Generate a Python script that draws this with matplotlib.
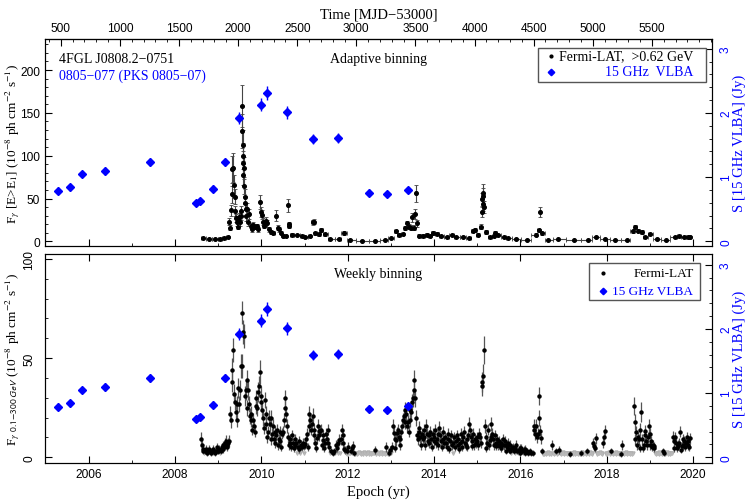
import numpy as np
import matplotlib
matplotlib.use('Agg')
import matplotlib.pyplot as plt
from matplotlib.ticker import MultipleLocator, FixedLocator
from matplotlib.patches import Rectangle
from matplotlib.lines import Line2D

# ---------------- data ----------------
# 15 GHz VLBA (Jy)
vlba_year = [2005.30, 2005.56, 2005.85, 2006.39, 2007.42, 2008.48, 2008.58, 2008.89, 2009.16,
             2009.49, 2009.99, 2010.13, 2010.60, 2011.19, 2011.77, 2012.50, 2012.92, 2013.40]
vlba_jy = [0.79, 0.84, 1.05, 1.10, 1.23, 0.60, 0.63, 0.82, 1.23,
           1.92, 2.13, 2.31, 2.01, 1.59, 1.61, 0.76, 0.73, 0.80]
vlba_err = [0.05, 0.05, 0.05, 0.06, 0.06, 0.04, 0.04, 0.05, 0.06,
            0.09, 0.10, 0.11, 0.10, 0.08, 0.08, 0.05, 0.04, 0.05]

# adaptive binning, E > 0.62 GeV: (epoch, flux, error)
adaptive = [
    (2008.64, 3.5, 0.8), (2008.78, 3.1, 0.8), (2008.93, 2.7, 0.8), (2009.05, 3.1, 0.8),
    (2009.14, 3.9, 0.9), (2009.22, 5.4, 1.0), (2009.26, 23, 4), (2009.28, 16, 3),
    (2009.30, 36, 6), (2009.31, 55, 10), (2009.33, 84, 16), (2009.35, 86, 17),
    (2009.37, 66, 12), (2009.385, 52, 9), (2009.40, 35, 6), (2009.42, 27, 5),
    (2009.435, 22, 4), (2009.45, 17, 3), (2009.47, 25, 4), (2009.49, 28, 5),
    (2009.505, 22, 4), (2009.52, 35, 6), (2009.53, 30, 5), (2009.545, 129, 20),
    (2009.555, 158, 24), (2009.565, 112, 18), (2009.572, 100, 15), (2009.58, 92, 14),
    (2009.587, 78, 12), (2009.595, 86, 13), (2009.605, 65, 10), (2009.615, 52, 9),
    (2009.625, 45, 8), (2009.64, 38, 7), (2009.655, 30, 6), (2009.67, 38, 7),
    (2009.69, 22, 4), (2009.72, 32, 6), (2009.75, 18, 3), (2009.78, 14, 3),
    (2009.81, 19, 3), (2009.85, 17, 3), (2009.89, 17.5, 3), (2009.93, 14, 3),
    (2009.975, 46, 8), (2009.99, 34, 6), (2010.01, 31, 5), (2010.04, 23, 4),
    (2010.07, 18, 3), (2010.10, 24, 4), (2010.13, 21, 4), (2010.17, 14, 3),
    (2010.22, 11, 2), (2010.28, 10, 2), (2010.35, 30, 6), (2010.39, 16, 3),
    (2010.42, 14, 3), (2010.46, 10, 2), (2010.51, 6.6, 1.5), (2010.56, 6, 1.5),
    (2010.61, 42, 8), (2010.63, 18, 3), (2010.65, 20, 3), (2010.70, 7.7, 1.5),
    (2010.83, 7.3, 1.5), (2010.94, 5.8, 1.2), (2011.02, 4.7, 1.0), (2011.12, 5.8, 1.2),
    (2011.20, 22, 3), (2011.22, 23, 3), (2011.25, 9.3, 2), (2011.33, 8, 1.5),
    (2011.39, 13, 2), (2011.47, 8, 1.5), (2011.60, 2.7, 0.8), (2011.79, 2.7, 0.8),
    (2011.91, 9.7, 2), (2012.05, 1.9, 0.6), (2012.33, 0.8, 0.5), (2012.64, 0.8, 0.5),
    (2012.87, 1.9, 0.6), (2013.01, 3.5, 0.8), (2013.12, 11.7, 2), (2013.18, 7.7, 1.5),
    (2013.27, 8.8, 1.5), (2013.33, 15.5, 2.5), (2013.37, 21, 3), (2013.42, 17, 3),
    (2013.47, 16, 3), (2013.50, 28, 5), (2013.53, 16, 3), (2013.55, 32, 6),
    (2013.59, 56, 10), (2013.60, 21, 4), (2013.64, 6.6, 1.5), (2013.74, 6.6, 1.5),
    (2013.83, 7.7, 1.5), (2013.90, 5.8, 1.2), (2013.98, 9.7, 2), (2014.06, 9, 2),
    (2014.17, 5.8, 1.2), (2014.29, 4.7, 1.0), (2014.42, 7.3, 1.5), (2014.51, 4.7, 1.0),
    (2014.67, 5.4, 1.0), (2014.82, 3.5, 0.8), (2014.90, 12.4, 2), (2014.95, 13, 2),
    (2015.01, 7.7, 1.5), (2015.08, 17, 3), (2015.10, 34, 6), (2015.115, 49, 8),
    (2015.125, 53, 9), (2015.135, 57, 10), (2015.145, 43.5, 8), (2015.155, 40, 7),
    (2015.21, 11, 2), (2015.30, 4.7, 1.0), (2015.39, 5.8, 1.2), (2015.42, 9.7, 2),
    (2015.49, 7.3, 1.5), (2015.61, 4.7, 1.0), (2015.72, 3.5, 0.8), (2015.90, 2.7, 0.8),
    (2016.15, 1.9, 0.6), (2016.36, 7.7, 1.5), (2016.43, 12.8, 2), (2016.46, 34, 6),
    (2016.51, 9.4, 2), (2016.65, 1.5, 0.5), (2016.88, 2.3, 0.6), (2017.23, 1.2, 0.5),
    (2017.56, 1.5, 0.5), (2017.75, 4.7, 1.0), (2017.95, 2.7, 0.8), (2018.19, 1.9, 0.6),
    (2018.47, 1.2, 0.5), (2018.60, 11.7, 2), (2018.66, 16.7, 2.5), (2018.73, 12.4, 2),
    (2018.81, 11, 2), (2018.89, 4.7, 1.0), (2019.00, 8.5, 1.5), (2019.16, 2.7, 0.8),
    (2019.37, 1.2, 0.5), (2019.57, 4.7, 1.0), (2019.68, 5.8, 1.2), (2019.78, 5, 1.0),
    (2019.87, 5, 1.0), (2019.93, 5, 1.0),
]
lat_start = 2008.593   # start of the LAT light curve (first bin edge)
lat_end = 2019.95      # end of the LAT light curve

# weekly binning, 0.1-300 GeV; negative value = upper limit at |value|
weekly_flux = [
    9, 6, 4, 3, -2, 3, 4, 2, 3, -2, 4, 3, 2,
    3, -2, 4, 3, 2, 3, 5, 3, 3, 4, -2, 3, 5,
    4, 6, 5, 7, 8, 6, 5, 7, 8, 22, 19, 38, 44,
    54, 32, 28, 23, 19, 27, 35, 27, 34, 46, 73, 46, 63,
    61, 31, 34, 25, 39, 34, 27, 21, 19, 22, 14, 19, 16,
    13, 26, 30, 25, 33, 36, 43, 31, 28, 24, 20, 15, 29,
    22, 17, 10, 13, 20, 17, 9, 20, 12, 16, 9, 13, 7,
    11, 14, 6, 9, 13, 8, 5, 12, 13, 19, 25, 30, 22,
    16, 10, 6, 7, 9, 5, 11, 7, 4.5, 6, 9, 7, -2,
    5, 8, 4, -2, 6, 5, 7, -2, 5.5, 6.5, 9, 12, 5,
    16, 22, 19, 14, 17, 21, 14, 11, 7, 4.5, 9.5, 16, 13.5,
    11, 13.5, 14, 6, 8.5, 11, 4.5, 7, 12, 9, 14, 7, 5,
    -2, 3, -2, 2, -2, 3, -2, 6, 4.5, -2, 7, 8.5, -2,
    9, 14, 11, 7, 4, 3.5, -2, 3, -1.5, 5, -2, -2, 3,
    -2, 4.5, 5.5, 2, -1.5, -2, -2, -1.5, -2, -2.5, -2, -1.5, -2,
    -2, -1.5, -2.5, -2, -1.5, -2, -2, -2.5, -1.5, -2, -2, -1.5, -2,
    -2, -2, 3.9, -1.5, -2, -2.5, -2, -1.5, -2, -2, -2.5, -1.5, -2,
    -2, -1.5, -2, 5, -2, -1.5, 2, -2, 3.5, -2, 5, 16, 12.5,
    9, 4.5, 8.5, 12.5, 14, 10, 6, 9, 13, 16, 19, 21, 18,
    24, 22, 16, 18, 13, 19, 24, 23, 28, 30, 34, 39, 30,
    20, 11, 9, 13, 15, 10, 6, 12, 9, 14, 10, 6, 16,
    12, 8, 11, 7, 13, 9, 5, 12, 8, 10, 14, 7, 9,
    12, 6, 15, 11, 8, 5, 9, 13, 7, 10, 7, 5, 12,
    9, 4, 8, 11, 6, -2, 7, 10, 5, 8, 11, 6, 9,
    4, 7, 12, 8, 5, 10, 13, 7, 6, 9, 5, 11, 17,
    14, 10, 5.5, 8, 12, 6, 9, 7, 10, 8, 6, 12, 10,
    7, 36, 38, 41, 54, 16, 10, 4.5, 7, 14, 6, 8.5, 10,
    17, 12, 9, 6, 11, 7, 5.5, 9, 6, 8, 5.7, 7.4, 4.5,
    6, 9, 6, 8.3, 6, 3, 5, 7, 4, 6, 3, -2, 4.5,
    5, 3, -2, 4.5, 6, 3, -2, 3.5, 4.5, 2, 4.5, 3, -2,
    3.5, 4, 2, -2, 3, 2, -2, -2, 3, 2, -2, 2, 16,
    14, 11.5, 16, 10, 12, 20, 31, 13.5, 9.5, 3, -1.5, -2, -1.5,
    -2, -1.5, -2, -2.5, -1.5, -2, -2, -1.5, 6, -2, -1.5, -2, -2,
    3, -1.5, -2, -2, 3.5, -2, -1.5, -2, -2.5, -2, -1.5, -2, -2,
    -1.5, -2, -2, -1.5, 1.5, -2, -2, -1.5, -2, -2.5, -1.5, -2, -2,
    -1.5, -2, -2, -1.5, 2, -2, -2.5, -1.5, -2, -2, -1.5, 3, -2,
    -2, -1.5, -2.5, -2, -1.5, -2, 7.4, 5.7, 4.5, 9.5, -2, -1.5, -2,
    -2, -2.5, -2, -1.5, -2, 7.4, 10, 13.4, -2, -1.5, -2, -2, -2.5,
    -1.5, -2, 3, -2, -1.5, -2, -2, -2.5, -1.5, -2, -2, -1.5, -2,
    1.5, -2, 6, -2, -1.5, -2, -2.5, -2, -1.5, -2, -2, -1.5, -2,
    -2, -1.5, -2, 26, 17.6, 9, 13, 6, 10, 9, 14, 4.5, 22.7,
    9, 4.5, 6, 13.4, 11, 8, 6, 10, 16, 12, 6, 8, 5,
    6, 4.5, 5.5, -2, -1.5, -2, -2, -2.5, -1.5, -2, -2, -1.5, 3,
    2, -2, -1.5, -2, -2.5, -1.5, -2, -2, -1.5, -2, -2, 10.2, 8.3,
    4.5, 10, 7.4, 4.5, 6, 5.5, 7.4, 13, 3.5, 5.5, 9, 6, 8,
    5, 7, 10, 6, 8, 5, 9.5,
]
weekly_err = [
    4, 2.5, 2, 1.5, 0, 1.5, 2, 1.5, 1.5, 0, 2, 1.5, 1.5,
    1.5, 0, 2, 1.5, 1.5, 1.5, 2, 1.5, 1.5, 2, 0, 1.5, 2,
    2, 2, 2, 2.5, 3, 2.5, 2, 2.5, 3, 4, 4, 5, 6,
    6, 5, 4, 4, 3.5, 4, 5, 4, 5, 6, 6, 6, 6,
    6, 5, 5, 4, 5, 5, 4, 4, 3.5, 4, 3, 3.5, 3,
    3, 4, 4, 4, 5, 5, 6, 5, 4, 4, 4, 3, 4,
    4, 3.5, 3, 3, 4, 3.5, 3, 4, 3, 3.5, 3, 3, 2.5,
    3, 3, 2.5, 3, 3, 2.5, 2, 3, 3, 3.5, 4, 4, 4,
    3.5, 3, 2.5, 2.5, 3, 2, 3, 2.5, 2, 2.5, 3, 2.5, 0,
    2, 2.5, 2, 0, 2.5, 2, 2.5, 0, 2, 2.5, 3, 3, 2,
    3.5, 4, 3.5, 3, 3.5, 4, 3, 3, 2.5, 2, 3, 3.5, 3,
    3, 3, 3, 2.5, 3, 3, 2, 2.5, 3, 3, 3, 2.5, 2,
    0, 1.5, 0, 1.5, 0, 1.5, 0, 2.5, 2, 0, 2.5, 3, 0,
    3, 3, 3, 2.5, 2, 2, 0, 1.5, 0, 2.5, 0, 0, 1.5,
    0, 2, 2.5, 1.5, 0, 0, 0, 0, 0, 0, 0, 0, 0,
    0, 0, 0, 0, 0, 0, 0, 0, 0, 0, 0, 0, 0,
    0, 0, 2, 0, 0, 0, 0, 0, 0, 0, 0, 0, 0,
    0, 0, 0, 2.5, 0, 0, 1.5, 0, 2, 0, 2.5, 3.5, 3,
    3, 2, 3, 3, 3, 3, 2.5, 3, 3, 3.5, 3.5, 4, 3.5,
    4, 4, 3.5, 3.5, 3, 3.5, 4, 4, 4, 4.5, 5, 5, 4.5,
    4, 3, 3, 3, 3.5, 3, 2.5, 3, 3, 3, 3, 2.5, 3.5,
    3, 2.5, 3, 2.5, 3, 3, 2, 3, 2.5, 3, 3, 2.5, 3,
    3, 2.5, 3.5, 3, 2.5, 2, 3, 3, 2.5, 3, 2.5, 2, 3,
    3, 2, 2.5, 3, 2.5, 0, 2.5, 3, 2, 2.5, 3, 2.5, 3,
    2, 2.5, 3, 2.5, 2, 3, 3, 2.5, 2.5, 3, 2, 3, 3.5,
    3, 3, 2, 2.5, 3, 2.5, 3, 2.5, 3, 2.5, 2.5, 3, 3,
    2.5, 5, 5, 6, 7, 3.5, 3, 2, 2.5, 3, 2.5, 3, 3,
    3.5, 3, 3, 2.5, 3, 2.5, 2, 3, 2.5, 2.5, 2, 2.5, 2,
    2.5, 3, 2.5, 2.5, 2.5, 1.5, 2, 2.5, 2, 2.5, 1.5, 0, 2,
    2, 1.5, 0, 2, 2.5, 1.5, 0, 2, 2, 1.5, 2, 1.5, 0,
    2, 2, 1.5, 0, 1.5, 1.5, 0, 0, 1.5, 1.5, 0, 1.5, 3.5,
    3, 3, 3.5, 3, 3, 4, 4.5, 3, 3, 1.5, 0, 0, 0,
    0, 0, 0, 0, 0, 0, 0, 0, 2.5, 0, 0, 0, 0,
    1.5, 0, 0, 0, 2, 0, 0, 0, 0, 0, 0, 0, 0,
    0, 0, 0, 0, 1.5, 0, 0, 0, 0, 0, 0, 0, 0,
    0, 0, 0, 0, 1.5, 0, 0, 0, 0, 0, 0, 1.5, 0,
    0, 0, 0, 0, 0, 0, 2.5, 2.5, 2, 3, 0, 0, 0,
    0, 0, 0, 0, 0, 2.5, 3, 3, 0, 0, 0, 0, 0,
    0, 0, 1.5, 0, 0, 0, 0, 0, 0, 0, 0, 0, 0,
    1.5, 0, 2.5, 0, 0, 0, 0, 0, 0, 0, 0, 0, 0,
    0, 0, 0, 4.5, 4, 3, 3, 2.5, 3, 3, 3.5, 2, 5,
    3, 2, 2.5, 3, 3, 2.5, 2.5, 3, 3.5, 3, 2.5, 2.5, 2,
    2.5, 2, 2, 0, 0, 0, 0, 0, 0, 0, 0, 0, 1.5,
    1.5, 0, 0, 0, 0, 0, 0, 0, 0, 0, 0, 3, 2.5,
    2, 3, 2.5, 2, 2.5, 2, 2.5, 3, 1.5, 2, 3, 2.5, 2.5,
    2, 2.5, 3, 2.5, 2.5, 2, 3,
]

mjd_ticks = [500, 1000, 1500, 2000, 2500, 3000, 3500, 4000, 4500, 5000, 5500]
JY_TOP = (-0.078, 3.151)
JY_BOT = (-0.089, 3.167)

# ---------------- style ----------------
plt.rcParams['font.family'] = ['Liberation Serif', 'DejaVu Serif']
plt.rcParams['mathtext.fontset'] = 'stix'
plt.rcParams['font.size'] = 10
BLUE = '#0000ff'
TICKFONT = 'Liberation Sans'
TICKSIZE = 8.6


def yr2mjd(y):
    return (np.asarray(y) - 2004.0) * 365.25 + 5.0


def mjd2yr(m):
    return 2004.0 + (np.asarray(m) - 5.0) / 365.25


fig = plt.figure(figsize=(7.47, 5.02), dpi=100)
L, R = 45 / 747, 711.7 / 747
ax1 = fig.add_axes([L, 1 - 247.3 / 502, R - L, (247.3 - 40) / 502])
ax2 = fig.add_axes([L, 1 - 464 / 502, R - L, (464 - 255) / 502])

for ax in (ax1, ax2):
    ax.set_xlim(2004.99, 2020.43)
    ax.xaxis.set_major_locator(MultipleLocator(2))
    ax.xaxis.set_minor_locator(MultipleLocator(1))
    ax.yaxis.set_major_locator(MultipleLocator(50))
    ax.yaxis.set_minor_locator(MultipleLocator(10))
    ax.tick_params(which='both', direction='in', right=False,
                   labelfontfamily=TICKFONT, labelsize=TICKSIZE)
    ax.tick_params(which='major', length=5)
    ax.tick_params(which='minor', length=2.5)

ax1.set_ylim(-5.8, 236.2)
ax2.set_ylim(-2.87, 102.5)
ax1.tick_params(top=False, labelbottom=False)
ax1.tick_params(axis='y', pad=3.5)
ax2.tick_params(top=True)
ax2.tick_params(axis='y', pad=7)
for lbl in ax2.get_yticklabels():
    lbl.set_rotation(90)
    lbl.set_va('center')

# ---- top panel: adaptive binning
ad = np.array(adaptive, float)
t_ad, f_ad, e_ad = ad[:, 0], ad[:, 1], ad[:, 2]
edges = np.concatenate([[lat_start], 0.5 * (t_ad[1:] + t_ad[:-1]), [lat_end]])
xerr_ad = [t_ad - edges[:-1], edges[1:] - t_ad]
ax1.errorbar(t_ad, f_ad, yerr=e_ad, xerr=xerr_ad, fmt='o', ms=2.6,
             color='black', ecolor='#444444', elinewidth=0.8, capsize=1.2,
             capthick=0.6, zorder=3)

# ---- bottom panel: weekly binning
wf = np.array(weekly_flux, float)
we = np.array(weekly_err, float)
wt = lat_start + (np.arange(len(wf)) + 0.5) * 7 / 365.25
det = wf > 0
ax2.plot(wt[~det], -wf[~det], 'v', ms=2.2, color='#b0b0b0', zorder=2)
ax2.vlines(wt[~det], -wf[~det] - 0.7, -wf[~det] + 0.7, color='#b8b8b8', lw=0.8, zorder=2)
ax2.errorbar(wt[det], wf[det], yerr=we[det], fmt='o', ms=2.2, color='black',
             ecolor='#555555', elinewidth=0.9, capsize=0, zorder=3)

# ---- right axes (VLBA)
ax1r = ax1.twinx()
ax2r = ax2.twinx()
for axr, lim in ((ax1r, JY_TOP), (ax2r, JY_BOT)):
    axr.set_ylim(*lim)
    axr.yaxis.set_major_locator(MultipleLocator(1))
    axr.yaxis.set_minor_locator(MultipleLocator(0.2))
    axr.tick_params(which='both', direction='in', labelcolor=BLUE,
                    labelfontfamily=TICKFONT, labelsize=TICKSIZE, pad=6)
    axr.tick_params(which='major', length=5)
    axr.tick_params(which='minor', length=2.5)
    for lbl in axr.get_yticklabels():
        lbl.set_rotation(90)
        lbl.set_va('center')
    axr.errorbar(vlba_year, vlba_jy, yerr=vlba_err, xerr=0.03, fmt='D', ms=3.8,
                 color=BLUE, ecolor=BLUE, elinewidth=1.0, capsize=0, zorder=4)
    axr.set_ylabel('S [15 GHz VLBA] (Jy)', color=BLUE, fontsize=10.5)
    axr.yaxis.set_label_coords(1.031, 0.5)

# ---- top MJD axis
sec = ax1.secondary_xaxis('top', functions=(yr2mjd, mjd2yr))
sec.xaxis.set_major_locator(FixedLocator(mjd_ticks))
sec.xaxis.set_minor_locator(MultipleLocator(100))
sec.tick_params(which='both', direction='in', labelfontfamily=TICKFONT, labelsize=TICKSIZE)
sec.tick_params(which='major', length=5)
sec.tick_params(which='minor', length=2.5)
sec.set_xlabel('Time [MJD\u221253000]', fontsize=10.5, labelpad=3)

# ---- axis labels
ax1.set_ylabel(r'F$_\gamma$ [E>E$_1$] (10$^{-8}$ ph cm$^{-2}$ s$^{-1}$)', fontsize=9.5)
ax1.yaxis.set_label_coords(-0.035, 0.5)
ax2.set_ylabel(r'F$_\gamma$$_{\ \mathsf{0.1\!-\!300\ GeV}}$ (10$^{-8}$ ph cm$^{-2}$ s$^{-1}$)',
               fontsize=9.5)
ax2.yaxis.set_label_coords(-0.035, 0.5)
ax2.set_xlabel('Epoch (yr)', fontsize=10.5, labelpad=3)

# ---- annotations
ax1r.text(0.0215, 0.905, '4FGL J0808.2\u22120751', transform=ax1r.transAxes,
          fontsize=10, va='center')
ax1r.text(0.0215, 0.823, '0805\u2212077 (PKS 0805\u221207)', transform=ax1r.transAxes,
          fontsize=10, va='center', color=BLUE)
ax1r.text(0.4995, 0.905, 'Adaptive binning', transform=ax1r.transAxes,
          fontsize=10, va='center', ha='center')
ax2r.text(0.5, 0.908, 'Weekly binning', transform=ax2r.transAxes,
          fontsize=10, va='center', ha='center')


def legend_box(ax, x0, y0, x1, y1, xm, xt, rows, size):
    ax.add_patch(Rectangle((x0, y0), x1 - x0, y1 - y0, transform=ax.transAxes,
                           facecolor='white', edgecolor='#555555', lw=1.0, zorder=10))
    for y, mk, ms, col, label in rows:
        ax.add_line(Line2D([xm], [y], marker=mk, ms=ms, color=col, ls='none',
                           transform=ax.transAxes, zorder=11))
        ax.text(xt, y, label, transform=ax.transAxes, ha='right', va='center',
                color=col, fontsize=size, zorder=11)


legend_box(ax1r, 0.7395, 0.7926, 0.9915, 0.9566, 0.759, 0.972,
           [(0.918, 'o', 2.0, 'black', 'Fermi-LAT,  >0.62 GeV'),
            (0.841, 'D', 3.3, BLUE, '15 GHz  VLBA')], 10)
legend_box(ax2r, 0.8164, 0.781, 0.9825, 0.957, 0.8374, 0.9725,
           [(0.908, 'o', 2.0, 'black', 'Fermi-LAT'),
            (0.824, 'D', 3.3, BLUE, '15 GHz VLBA')], 9.5)

fig.savefig('out.png', dpi=100)
